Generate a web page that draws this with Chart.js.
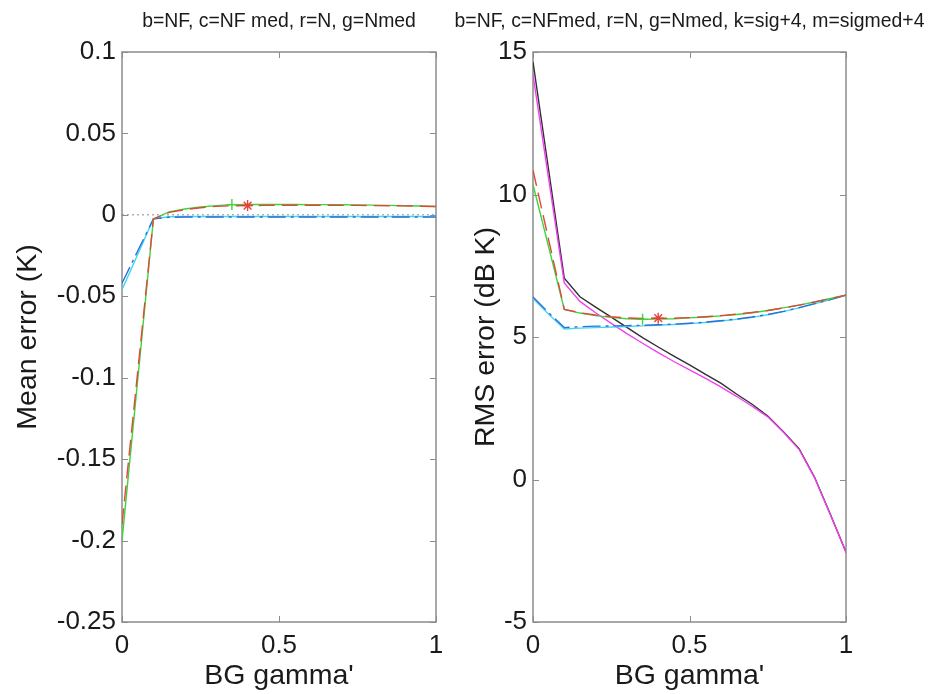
<!DOCTYPE html>
<html>
<head>
<meta charset="utf-8">
<title>BG gamma' error</title>
<script src="https://cdn.jsdelivr.net/npm/chart.js@4.4.1/dist/chart.umd.min.js"></script>
<style>
  html, body { margin: 0; padding: 0; background: #fff; }
  #wrap { position: relative; width: 930px; height: 694px; overflow: hidden; }
  #wrap canvas { position: absolute; top: 0; }
  #mean-chart { left: 0; }
  #rms-chart { left: 455px; }
</style>
</head>
<body>
<div id="wrap">
  <canvas id="mean-chart" width="455" height="694"></canvas>
  <canvas id="rms-chart" width="475" height="694"></canvas>
</div>
<script>
// gamma' grid shared by every curve
const gamma = [0, 0.05, 0.1, 0.15, 0.2, 0.25, 0.3, 0.35, 0.4, 0.45, 0.5,
               0.55, 0.6, 0.65, 0.7, 0.75, 0.8, 0.85, 0.9, 0.95, 1];
const gammaTicks = [0, 0.5, 1];

// mean error (K)
const meanNF    = [-0.042, -0.0222, -0.0025, -0.0015, -0.0013, -0.0013, -0.0013, -0.0013, -0.0013, -0.0013, -0.0013,
                   -0.0013, -0.0013, -0.0013, -0.0013, -0.0013, -0.0013, -0.0013, -0.0013, -0.0013, -0.0014];
const meanNFmed = [-0.046, -0.0243, -0.0025, -0.0012, -0.0010, -0.0010, -0.0010, -0.0010, -0.0010, -0.0010, -0.0010,
                   -0.0010, -0.0010, -0.0010, -0.0010, -0.0010, -0.0010, -0.0010, -0.0010, -0.0010, -0.0011];
const meanN     = [-0.19, -0.0963, -0.0025, 0.0015, 0.0032, 0.0044, 0.0052, 0.0056, 0.0057, 0.0058, 0.0059,
                   0.0059, 0.0059, 0.0059, 0.0058, 0.0058, 0.0057, 0.0056, 0.0055, 0.0053, 0.0051];
const meanNmed  = [-0.2, -0.1013, -0.0025, 0.0018, 0.0036, 0.0048, 0.0057, 0.0063, 0.0064, 0.0064, 0.0064,
                   0.0064, 0.0063, 0.0063, 0.0062, 0.0061, 0.0060, 0.0058, 0.0056, 0.0054, 0.0051];
const meanTicks = [-0.25, -0.2, -0.15, -0.1, -0.05, 0, 0.05, 0.1];

// RMS error (dB K)
const rmsNF       = [6.4, 5.85, 5.33, 5.36, 5.38, 5.39, 5.40, 5.41, 5.43, 5.45, 5.48,
                     5.52, 5.57, 5.63, 5.70, 5.79, 5.90, 6.03, 6.17, 6.31, 6.47];
const rmsNFmed    = [6.35, 5.8, 5.28, 5.31, 5.33, 5.35, 5.37, 5.39, 5.41, 5.44, 5.47,
                     5.51, 5.56, 5.62, 5.69, 5.78, 5.89, 6.02, 6.16, 6.31, 6.47];
const rmsN        = [10.85, 8.41, 5.97, 5.85, 5.77, 5.71, 5.67, 5.65, 5.66, 5.66, 5.68,
                     5.71, 5.75, 5.80, 5.86, 5.93, 6.02, 6.12, 6.23, 6.35, 6.47];
const rmsNmed     = [10.35, 8.16, 5.97, 5.84, 5.75, 5.69, 5.64, 5.62, 5.63, 5.64, 5.67,
                     5.70, 5.74, 5.79, 5.85, 5.93, 6.02, 6.12, 6.23, 6.35, 6.47];
const rmsSig4     = [14.65, 10.86, 7.06, 6.41, 6.05, 5.70, 5.34, 4.98, 4.65, 4.33, 4.02,
                     3.70, 3.38, 3.00, 2.64, 2.23, 1.68, 1.08, 0.07, -1.22, -2.55];
const rmsSigmed4  = [14.2, 10.55, 6.90, 6.25, 5.85, 5.48, 5.12, 4.78, 4.45, 4.14, 3.85,
                     3.56, 3.25, 2.92, 2.57, 2.20, 1.66, 1.06, 0.05, -1.24, -2.55];
const rmsTicks = [-5, 0, 5, 10, 15];

// best gamma' index for N (red *) and Nmed (green +)
const bestN = 8;
const bestNmed = 7;

const FONT = '"Liberation Sans", Arial, sans-serif';
const INK = '#1a1a1a';
Chart.defaults.font.family = FONT;
Chart.defaults.color = INK;

const line = (values, color, dash) => ({
  data: gamma.map((g, i) => ({ x: g, y: values[i] })),
  borderColor: color,
  borderWidth: 1.4,
  borderDash: dash || [],
  pointRadius: 0,
  fill: false,
  tension: 0
});

const mark = (values, idx, color, style) => ({
  data: [{ x: gamma[idx], y: values[idx] }],
  showLine: false,
  borderColor: color,
  backgroundColor: color,
  borderWidth: 1.4,
  pointStyle: style,
  pointRadius: 5.5
});

// box around the plot area with inward ticks on all four sides, plus the header text
const frame = {
  id: 'frame',
  beforeDatasetsDraw(chart, args, opts) {
    const { ctx, chartArea: a, scales: { x, y } } = chart;
    ctx.save();
    ctx.strokeStyle = '#8c8c8c';
    ctx.lineWidth = 1.5;
    ctx.strokeRect(a.left, a.top, a.right - a.left, a.bottom - a.top);
    ctx.lineWidth = 1;
    ctx.beginPath();
    y.ticks.forEach(t => {
      const py = Math.round(y.getPixelForValue(t.value)) + 0.5;
      ctx.moveTo(a.left, py); ctx.lineTo(a.left + 6, py);
      ctx.moveTo(a.right, py); ctx.lineTo(a.right - 6, py);
    });
    x.ticks.forEach(t => {
      const px = Math.round(x.getPixelForValue(t.value)) + 0.5;
      ctx.moveTo(px, a.bottom); ctx.lineTo(px, a.bottom - 6);
      ctx.moveTo(px, a.top); ctx.lineTo(px, a.top + 6);
    });
    ctx.stroke();
    ctx.fillStyle = INK;
    ctx.font = '19.4px ' + FONT;
    ctx.textAlign = 'center';
    ctx.textBaseline = 'middle';
    ctx.fillText(opts.text, (a.left + a.right) / 2, 22);
    ctx.restore();
  }
};

function errorChart(el, o) {
  return new Chart(el, {
    type: 'line',
    data: { datasets: o.datasets },
    options: {
      responsive: false,
      animation: false,
      layout: { padding: { top: 52, right: o.padRight, bottom: 0, left: 0 } },
      plugins: { legend: { display: false }, tooltip: { enabled: false }, frame: { text: o.title } },
      scales: {
        x: {
          type: 'linear', min: 0, max: 1,
          afterBuildTicks: s => { s.ticks = gammaTicks.map(v => ({ value: v })); },
          afterFit: s => { s.height = 72; },
          grid: { display: false, drawTicks: false },
          border: { display: false },
          ticks: { font: { size: 26 }, padding: 8, maxRotation: 0, callback: v => String(v) },
          title: { display: true, text: "BG gamma'", font: { size: 28.5 }, padding: { top: 0, bottom: 1 } }
        },
        y: {
          min: o.yMin, max: o.yMax,
          afterBuildTicks: s => { s.ticks = o.yTicks.map(v => ({ value: v })); },
          afterFit: s => { s.width = o.yWidth; },
          grid: { display: false, drawTicks: false },
          border: { display: false },
          ticks: { font: { size: 26 }, padding: 6, callback: v => String(v) },
          title: { display: true, text: o.yTitle, font: { size: 28.5 }, padding: { top: o.yTitlePad, bottom: 0 } }
        }
      }
    },
    plugins: [frame]
  });
}

errorChart(document.getElementById('mean-chart'), {
  title: 'b=NF, c=NF med, r=N, g=Nmed',
  yTitle: 'Mean error (K)',
  yMin: -0.25, yMax: 0.1, yTicks: meanTicks,
  yWidth: 122, yTitlePad: 11, padRight: 19,
  datasets: [
    mark(meanN, bestN, '#e8403a', 'star'),
    mark(meanNmed, bestNmed, '#3ad63a', 'cross'),
    line(meanN, '#e0483a', [16, 7]),
    line(meanNmed, '#3cd43c'),
    line(meanNF, '#2f6fd6', [18, 5, 3, 5]),
    line(meanNFmed, '#3fd8f2'),
    {
      data: [{ x: 0, y: 0 }, { x: 1, y: 0 }],
      borderColor: '#8a8a8a', borderWidth: 1, borderDash: [2, 3], pointRadius: 0
    }
  ]
});

errorChart(document.getElementById('rms-chart'), {
  title: 'b=NF, c=NFmed, r=N, g=Nmed, k=sig+4, m=sigmed+4',
  yTitle: 'RMS error (dB K)',
  yMin: -5, yMax: 15, yTicks: rmsTicks,
  yWidth: 78, yTitlePad: 14, padRight: 84,
  datasets: [
    mark(rmsN, bestN, '#e8403a', 'star'),
    mark(rmsNmed, bestNmed, '#3ad63a', 'cross'),
    line(rmsN, '#e0483a', [16, 7]),
    line(rmsNmed, '#3cd43c'),
    line(rmsNF, '#2f6fd6', [18, 5, 3, 5]),
    line(rmsNFmed, '#3fd8f2'),
    line(rmsSigmed4, '#f040f0'),
    line(rmsSig4, '#303030')
  ]
});
</script>
</body>
</html>
